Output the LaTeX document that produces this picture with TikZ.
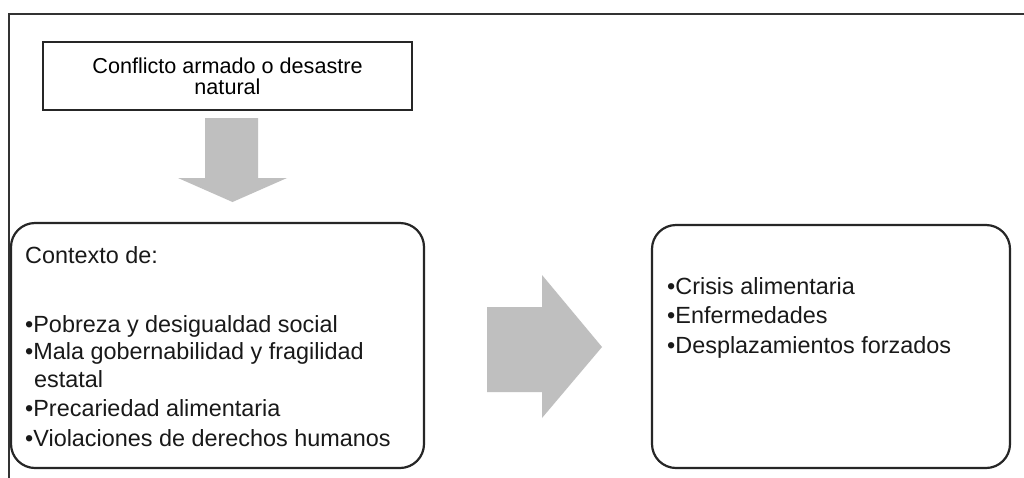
\documentclass[tikz,border=0pt]{standalone}
\usepackage{fontspec}
\setmainfont{Liberation Sans}
\begin{document}
\begin{tikzpicture}[x=1pt,y=-1pt,
  frame/.style={line width=2.5pt,draw=black!80},
  topbox/.style={draw=black!85,line width=2.2pt,minimum width=369pt,minimum height=68pt,inner sep=0pt,align=center,font=\fontsize{21.6}{21}\selectfont},
  roundbox/.style={draw=black!85,line width=2.2pt,rounded corners=24pt},
  txt/.style={anchor=base west,inner sep=0pt,font=\fontsize{23.4}{27}\selectfont,text=black!90},
  blockarrow/.style={fill=black!25,draw=none}]
\useasboundingbox (0,0) rectangle (1024,477);
\fill[white] (0,0) rectangle (1024,477);
% outer frame
\draw[frame] (1026,14) -- (9,14) -- (9,479);
% top box
\node[topbox] (top) at (227.5,76) {Conflicto armado o desastre\\natural};
% left box
\draw[roundbox] (11,223) rectangle (424,468);
\node[inner sep=0pt,minimum width=413pt,minimum height=245pt] (ctx) at (217.5,345.5) {};
\node[txt] (c0) at (25,263) {Contexto de:};
\node[txt] (c1) at (25,332) {•Pobreza y desigualdad social};
\node[txt] (c2) at (25,359) {•Mala gobernabilidad y fragilidad};
\node[txt] (c3) at (34,387) {estatal};
\node[txt] (c4) at (25,416) {•Precariedad alimentaria};
\node[txt] (c5) at (25,446) {•Violaciones de derechos humanos};
% right box
\draw[roundbox] (652,225) rectangle (1010,468);
\node[inner sep=0pt,minimum width=358pt,minimum height=243pt] (res) at (831,346.5) {};
\node[txt] (r1) at (667,294) {•Crisis alimentaria};
\node[txt] (r2) at (667,323) {•Enfermedades};
\node[txt] (r3) at (667,353) {•Desplazamientos forzados};
% down block arrow
\fill[blockarrow] (205,118) -- (258,118) -- (258,178) -- (287,178) -- (232.5,202) -- (178,178) -- (205,178) -- cycle;
% right block arrow
\fill[blockarrow] (487,307) -- (542,307) -- (542,275) -- (602,347) -- (542,418) -- (542,392) -- (487,392) -- cycle;
\end{tikzpicture}
\end{document}
